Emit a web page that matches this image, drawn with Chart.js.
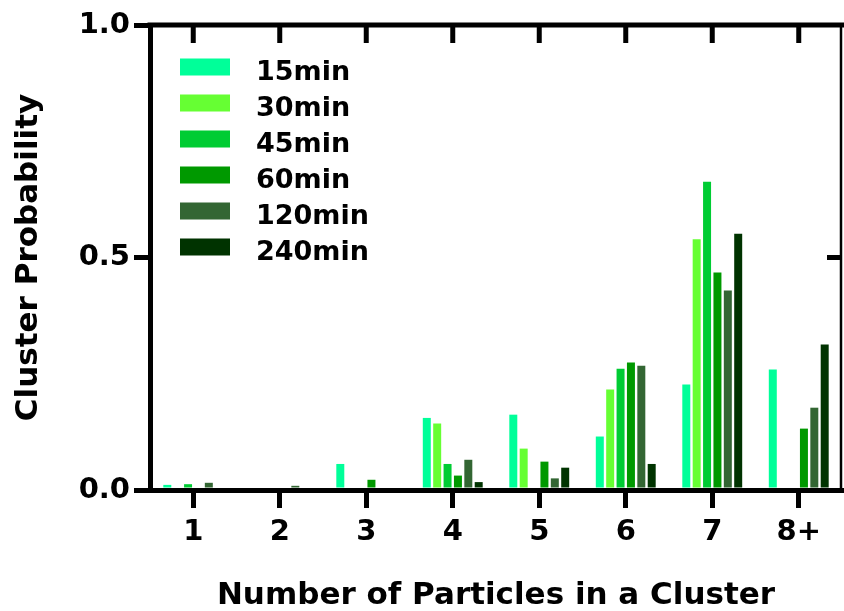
<!DOCTYPE html>
<html>
<head>
<meta charset="utf-8">
<script src="https://cdn.jsdelivr.net/npm/chart.js@4/dist/chart.umd.min.js"></script>
<style>
  html, body { margin: 0; padding: 0; background: #ffffff; }
  #c { display: block; }
</style>
</head>
<body>
<canvas id="c" width="844" height="611"></canvas>
<script>
// ---- data ----
const categories = ['1', '2', '3', '4', '5', '6', '7', '8+'];
const seriesNames = ['15min', '30min', '45min', '60min', '120min', '240min'];
const s15  = [0.011, 0,     0.056, 0.155, 0.162, 0.115, 0.227, 0.259];
const s30  = [0,     0,     0,     0.143, 0.089, 0.216, 0.539, 0];
const s45  = [0.0125,0,     0,     0.056, 0,     0.261, 0.663, 0];
const s60  = [0,     0,     0.022, 0.031, 0.061, 0.274, 0.468, 0.132];
const s120 = [0.0155,0.009, 0,     0.065, 0.025, 0.267, 0.429, 0.177];
const s240 = [0,     0,     0,     0.017, 0.048, 0.056, 0.551, 0.313];
const yTickLabels = ['0.0', '0.5', '1.0'];
const xTitle = 'Number of Particles in a Cluster';
const yTitle = 'Cluster Probability';

const colors = ['#00FF99', '#66FF33', '#00CC33', '#009900', '#336633', '#003300'];
const seriesValues = [s15, s30, s45, s60, s120, s240];

const FONT = "'DejaVu Sans', 'Liberation Sans', sans-serif";

const datasets = seriesValues.map((vals, i) => ({
  label: seriesNames[i],
  data: vals,
  backgroundColor: colors[i],
  borderWidth: 0,
  categoryPercentage: 0.72,
  barPercentage: 0.77
}));

// frame (top + right) with inward ticks, like the reference
const framePlugin = {
  id: 'frame',
  afterDraw(chart) {
    const ctx = chart.ctx;
    const a = chart.chartArea;
    const xs = chart.scales.x;
    const ys = chart.scales.y;
    ctx.save();
    ctx.strokeStyle = '#000';
    ctx.lineCap = 'butt';
    ctx.lineWidth = 5;
    ctx.beginPath();
    ctx.moveTo(a.left - 2.5, a.top);
    ctx.lineTo(a.right + 2, a.top);
    ctx.stroke();
    categories.forEach((c, i) => {
      const x = xs.getPixelForValue(i);
      ctx.beginPath();
      ctx.moveTo(x, a.top);
      ctx.lineTo(x, a.top + 18);
      ctx.stroke();
    });
    ctx.lineWidth = 2.5;
    ctx.beginPath();
    ctx.moveTo(a.right - 1, a.top);
    ctx.lineTo(a.right - 1, a.bottom);
    ctx.stroke();
    ctx.lineWidth = 5;
    const yMid = ys.getPixelForValue(0.5);
    ctx.beginPath();
    ctx.moveTo(a.right - 15, yMid);
    ctx.lineTo(a.right, yMid);
    ctx.stroke();
    ctx.restore();
  }
};

// legend drawn inside the plot area
const legendPlugin = {
  id: 'innerLegend',
  afterDraw(chart) {
    const ctx = chart.ctx;
    ctx.save();
    ctx.font = "bold 27px " + FONT;
    ctx.textAlign = 'left';
    ctx.textBaseline = 'alphabetic';
    chart.data.datasets.forEach((ds, i) => {
      const cy = 67 + i * 36;
      ctx.fillStyle = ds.backgroundColor;
      ctx.fillRect(180, cy - 8.5, 50, 17);
      ctx.fillStyle = '#000';
      ctx.fillText(ds.label, 256, cy + 12.5);
    });
    ctx.restore();
  }
};

new Chart(document.getElementById('c'), {
  type: 'bar',
  data: { labels: categories, datasets },
  options: {
    responsive: false,
    animation: false,
    devicePixelRatio: 1,
    layout: { padding: { top: 25, right: 2, left: 0, bottom: 0 } },
    plugins: {
      legend: { display: false },
      tooltip: { enabled: false }
    },
    scales: {
      x: {
        offset: true,
        grid: {
          offset: false,
          drawOnChartArea: false,
          drawTicks: true,
          tickLength: 18,
          lineWidth: 5,
          color: '#000'
        },
        border: { display: true, color: '#000', width: 5, z: 1 },
        ticks: {
          color: '#000',
          padding: 7,
          font: { family: FONT, size: 29, weight: 'bold' },
          maxRotation: 0,
          autoSkip: false
        },
        title: {
          display: true,
          text: xTitle,
          color: '#000',
          font: { family: FONT, size: 31, weight: 'bold', lineHeight: 1.0 },
          padding: { top: 0, bottom: 0 }
        },
        afterFit(s) { s.height = 121; }
      },
      y: {
        min: 0,
        max: 1,
        grid: {
          drawOnChartArea: false,
          drawTicks: true,
          tickLength: 16,
          lineWidth: 5,
          color: '#000'
        },
        border: { display: true, color: '#000', width: 5, z: 1 },
        ticks: {
          stepSize: 0.5,
          color: '#000',
          padding: 4,
          font: { family: FONT, size: 29, weight: 'bold' },
          callback: (v, i) => yTickLabels[i]
        },
        title: {
          display: true,
          text: yTitle,
          color: '#000',
          font: { family: FONT, size: 31, weight: 'bold', lineHeight: 1.2 },
          padding: { top: 10, bottom: 0 }
        },
        afterFit(s) { s.width = 150; }
      }
    }
  },
  plugins: [framePlugin, legendPlugin]
});
</script>
</body>
</html>
